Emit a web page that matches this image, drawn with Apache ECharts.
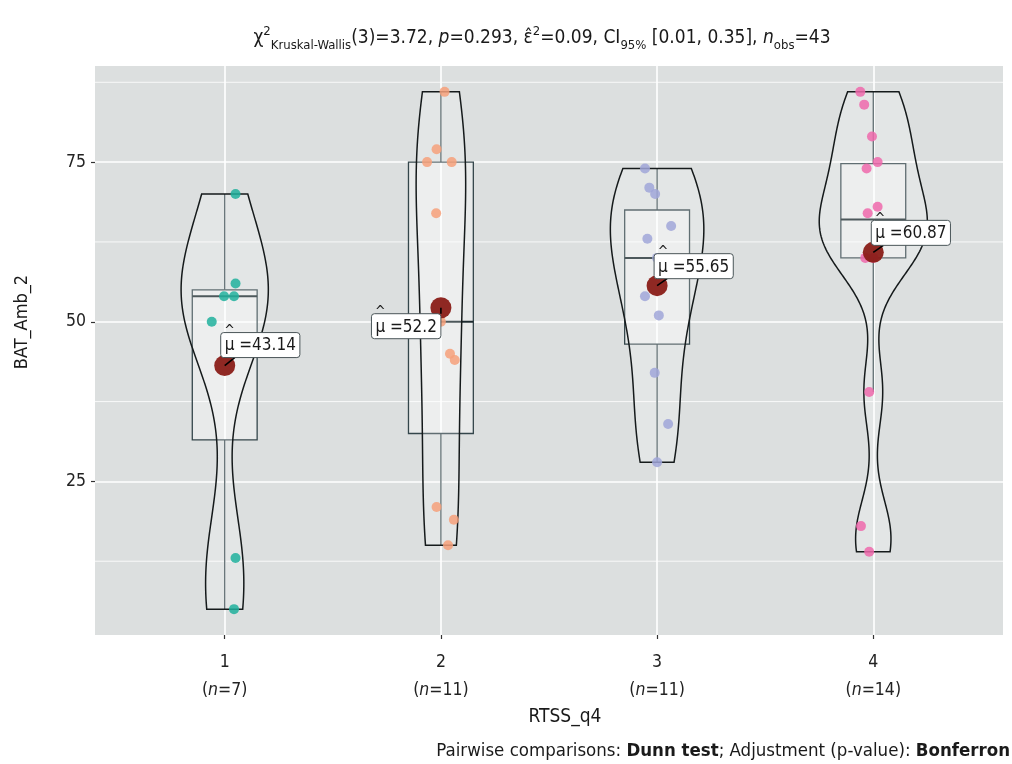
<!DOCTYPE html>
<html><head><meta charset="utf-8">
<script src="https://cdn.jsdelivr.net/npm/echarts@6/dist/echarts.min.js"></script>
<style>html,body{margin:0;padding:0;background:#fff}#c{width:1012px;height:764px}</style>
</head><body><div id="c"></div>
<script>
// ---------------- data ----------------
const categories = ['1', '2', '3', '4'];
const g1 = [70, 56, 54, 54, 50, 13, 5];
const g2 = [86, 77, 75, 75, 67, 50, 45, 44, 21, 19, 15];
const g3 = [74, 71, 70, 65, 63, 60, 54, 51, 42, 34, 28];
const g4 = [86, 84, 79, 75, 74, 68, 67, 65, 63, 60, 60, 39, 18, 14];
// horizontal jitter of each point, in category units
const jitter1 = [0.05, 0.05, -0.003, 0.043, -0.06, 0.05, 0.043];
const jitter2 = [0.017, -0.02, -0.064, 0.05, -0.022, 0.0, 0.042, 0.064, -0.02, 0.06, 0.033];
const jitter3 = [-0.056, -0.036, -0.009, 0.065, -0.045, 0.0, -0.056, 0.008, -0.011, 0.051, 0.0];
const jitter4 = [-0.06, -0.042, -0.006, 0.02, -0.031, 0.02, -0.026, 0.03, 0.02, -0.037, 0.0, -0.019, -0.057, -0.019];
const meanLabels = [43.14, 52.2, 55.65, 60.87];
const yTicks = [25, 50, 75];
const yMinor = [12.5, 37.5, 62.5, 87.5];
const titleParts = {
  stat: 'χ', statSub: 'Kruskal-Wallis', df: '(3)=3.72, ', p: '=0.293, ',
  eff: '=0.09, CI', ciSub: '95%', ci: ' [0.01, 0.35], ', nSub: 'obs', n: '=43'
};
const xTitle = 'RTSS_q4';
const yTitle = 'BAT_Amb_2';
const captionParts = ['Pairwise comparisons: ', 'Dunn test', '; Adjustment (p-value): ', 'Bonferron'];

const groups = [g1, g2, g3, g4];
const jitters = [jitter1, jitter2, jitter3, jitter4];

// ---------------- styling ----------------
const FONT = "'Liberation Sans Narrow','DejaVu Sans Condensed','Roboto Condensed','Noto Sans',sans-serif";
const pointColors = ['#20B09C', '#F6A07A', '#A0A6D8', '#EE69AC'];
const labelLayout = [{dx: -4, dy: -33}, {right: true, dy: 6}, {dx: -3, dy: -32}, {dx: -2, dy: -32}];

// ---------------- stats helpers ----------------
function q7(s, p) { const h = (s.length - 1) * p, lo = Math.floor(h), hi = Math.ceil(h); return s[lo] + (h - lo) * (s[hi] - s[lo]); }
function sd(a) { const m = a.reduce((x, y) => x + y, 0) / a.length; return Math.sqrt(a.reduce((x, y) => x + (y - m) * (y - m), 0) / (a.length - 1)); }
function bwNrd0(a) { const s = a.slice().sort((x, y) => x - y); const iqr = q7(s, .75) - q7(s, .25); let lo = Math.min(sd(a), iqr / 1.34); if (!lo) lo = sd(a) || 1; return 0.9 * lo * Math.pow(a.length, -0.2); }
function kde(a, bw, y) { let t = 0; for (const v of a) { const z = (y - v) / bw; t += Math.exp(-0.5 * z * z); } return t / (a.length * bw * Math.sqrt(2 * Math.PI)); }

const stats = groups.map(g => {
  const s = g.slice().sort((a, b) => a - b);
  const q1 = q7(s, .25), med = q7(s, .5), q3 = q7(s, .75), iqr = q3 - q1;
  const lo = Math.min(...s.filter(v => v >= q1 - 1.5 * iqr)), hi = Math.max(...s.filter(v => v <= q3 + 1.5 * iqr));
  const bw = bwNrd0(g), N = 240, ys = [], ds = [];
  for (let k = 0; k < N; k++) { const y = s[0] + (s[s.length - 1] - s[0]) * k / (N - 1); ys.push(y); ds.push(kde(g, bw, y)); }
  return {q1, med, q3, lo, hi, ys, ds};
});
const maxD = Math.max(...stats.map(s => Math.max(...s.ds)));

const mctx = document.createElement('canvas').getContext('2d');
function textW(t, size) { mctx.font = size + 'px ' + FONT; return mctx.measureText(t).width; }
const clamp = (v, a, b) => Math.max(a, Math.min(b, v));

const chart = echarts.init(document.getElementById('c'), null, {renderer: 'canvas'});
const series = [];

// minor grid lines
series.push({
  type: 'custom', z: 1, silent: true, data: yMinor.map(v => [1, v]),
  renderItem(params, api) {
    const y = api.coord([1, api.value(1)])[1];
    const cs = params.coordSys;
    return {type: 'line', shape: {x1: cs.x, y1: y, x2: cs.x + cs.width, y2: y}, style: {stroke: '#ffffff', lineWidth: 0.8}};
  }
});
// boxes
series.push({
  type: 'custom', z: 2, silent: true, data: categories.map((c, i) => [i + 1, stats[i].med]),
  renderItem(params, api) {
    const st = stats[params.dataIndex], cx = params.dataIndex + 1, BW = 0.15;
    const a = api.coord([cx - BW, st.q3]), b = api.coord([cx + BW, st.q1]);
    const m1 = api.coord([cx - BW, st.med]), m2 = api.coord([cx + BW, st.med]);
    const w1 = api.coord([cx, st.q3]), w2 = api.coord([cx, st.hi]);
    const w3 = api.coord([cx, st.q1]), w4 = api.coord([cx, st.lo]);
    const ls = {stroke: '#34464B', lineWidth: 1.3};
    return {type: 'group', children: [
      {type: 'rect', shape: {x: a[0], y: a[1], width: b[0] - a[0], height: b[1] - a[1]}, style: {fill: 'rgba(255,255,255,0.35)', stroke: '#34464B', lineWidth: 1.3}},
      {type: 'line', shape: {x1: m1[0], y1: m1[1], x2: m2[0], y2: m2[1]}, style: {stroke: '#1c2a2e', lineWidth: 2}},
      {type: 'line', shape: {x1: w1[0], y1: w1[1], x2: w2[0], y2: w2[1]}, style: ls},
      {type: 'line', shape: {x1: w3[0], y1: w3[1], x2: w4[0], y2: w4[1]}, style: ls}
    ]};
  }
});
// violins
series.push({
  type: 'custom', z: 3, silent: true, data: categories.map((c, i) => [i + 1, stats[i].med]),
  renderItem(params, api) {
    const st = stats[params.dataIndex], cx = params.dataIndex + 1, pts = [];
    for (let k = 0; k < st.ys.length; k++) pts.push(api.coord([cx - 0.25 * st.ds[k] / maxD, st.ys[k]]));
    for (let k = st.ys.length - 1; k >= 0; k--) pts.push(api.coord([cx + 0.25 * st.ds[k] / maxD, st.ys[k]]));
    return {type: 'polygon', shape: {points: pts}, style: {fill: 'rgba(255,255,255,0.22)', stroke: '#151a1b', lineWidth: 1.5}};
  }
});
// points
groups.forEach((g, i) => {
  series.push({
    type: 'scatter', z: 4, silent: true, symbolSize: 10,
    itemStyle: {color: pointColors[i], opacity: 0.85},
    data: g.map((v, k) => [i + 1 + jitters[i][k], v])
  });
});
// means
series.push({
  type: 'scatter', z: 5, silent: true, symbolSize: 21,
  itemStyle: {color: '#8A1C17', opacity: 0.95},
  data: meanLabels.map((m, i) => [i + 1, m])
});
// mean labels
series.push({
  type: 'custom', z: 6, silent: true, data: meanLabels.map((m, i) => [i + 1, m]),
  renderItem(params, api) {
    const i = params.dataIndex;
    const p = api.coord([api.value(0), api.value(1)]);
    const muW = textW('μ', 17);
    const txt = 'μ =' + String(meanLabels[i]);
    const w = textW(txt, 17) + 8, h = 25;
    const L = labelLayout[i];
    const bx = L.right ? p[0] - w : p[0] + L.dx;
    const by = p[1] + L.dy;
    const ex = clamp(p[0] + 10, bx, bx + w), ey = clamp(p[1], by, by + h);
    return {type: 'group', children: [
      {type: 'line', shape: {x1: p[0], y1: p[1], x2: ex, y2: ey}, style: {stroke: '#000', lineWidth: 1.6}},
      {type: 'rect', shape: {x: bx, y: by, width: w, height: h, r: 3}, style: {fill: '#ffffff', stroke: '#4a5558', lineWidth: 1}},
      {type: 'text', style: {text: txt, x: bx + 4, y: by + h / 2 + 1, verticalAlign: 'middle', align: 'left', fontSize: 17, fontFamily: FONT, fill: '#1a1a1a'}},
      {type: 'text', style: {text: '^', x: bx + 4 + muW / 2, y: by - 8, verticalAlign: 'top', align: 'center', fontSize: 14, fontFamily: FONT, fill: '#1a1a1a'}}
    ]};
  }
});

const titleText = '{t|' + titleParts.stat + '}{sup|2}{sub|' + titleParts.statSub + '}{t|' + titleParts.df + '}{it|p}{t|' + titleParts.p +
  '}{t|ε̂}{sup|2}{t|' + titleParts.eff + '}{sub|' + titleParts.ciSub + '}{t|' + titleParts.ci + '}{it|n}{sub|' + titleParts.nSub + '}{t|' + titleParts.n + '}';

const option = {
  backgroundColor: '#ffffff',
  animation: false,
  grid: {left: 95, right: 9, top: 66, bottom: 129, show: true, backgroundColor: '#DCDFDF', borderWidth: 0},
  xAxis: {
    type: 'value', min: 0.4, max: 4.6,
    axisLine: {show: false},
    axisTick: {show: true, customValues: [1, 2, 3, 4], length: 4, lineStyle: {color: '#333', width: 1.2}},
    axisLabel: {
      customValues: [1, 2, 3, 4], margin: 13,
      formatter: v => { const i = Math.round(v) - 1; return '{a|' + categories[i] + '}\n{a|(}{i|n}{a|=' + groups[i].length + ')}'; },
      rich: {
        a: {fontSize: 17.5, lineHeight: 28, fontFamily: FONT, color: '#222'},
        i: {fontSize: 17.5, lineHeight: 28, fontFamily: FONT, color: '#222', fontStyle: 'italic'}
      }
    },
    splitLine: {show: true, lineStyle: {color: '#ffffff', width: 1.6}}
  },
  yAxis: {
    type: 'value', min: 0.95, max: 90.05,
    axisLine: {show: false},
    axisTick: {show: true, customValues: yTicks, length: 4, lineStyle: {color: '#333', width: 1.2}},
    axisLabel: {customValues: yTicks, fontSize: 17.5, fontFamily: FONT, color: '#222', margin: 9},
    splitLine: {show: true, lineStyle: {color: '#ffffff', width: 1.6}}
  },
  graphic: [
    {type: 'text', x: 542, y: 38, silent: true, style: {
      text: titleText, align: 'center', verticalAlign: 'middle',
      rich: {
        t: {fontSize: 19, lineHeight: 28, fontFamily: FONT, fill: '#1a1a1a'},
        it: {fontSize: 19, lineHeight: 28, fontFamily: FONT, fill: '#1a1a1a', fontStyle: 'italic'},
        sup: {fontSize: 13, lineHeight: 13, fontFamily: FONT, fill: '#1a1a1a', verticalAlign: 'top', padding: [1, 0, 0, 0]},
        sub: {fontSize: 13, lineHeight: 13, fontFamily: FONT, fill: '#1a1a1a', verticalAlign: 'bottom'}
      }
    }},
    {type: 'text', x: 565, y: 717, silent: true, style: {text: xTitle, align: 'center', verticalAlign: 'middle', fontSize: 19, fontFamily: FONT, fill: '#1a1a1a'}},
    {type: 'text', x: 22, y: 322, rotation: Math.PI / 2, silent: true, style: {text: yTitle, align: 'center', verticalAlign: 'middle', fontSize: 18, fontFamily: FONT, fill: '#1a1a1a'}},
    {type: 'text', x: 1010, y: 751, silent: true, style: {
      text: '{n|' + captionParts[0] + '}{b|' + captionParts[1] + '}{n|' + captionParts[2] + '}{b|' + captionParts[3] + '}',
      align: 'right', verticalAlign: 'middle',
      rich: {
        n: {fontSize: 18.5, fontFamily: FONT, fill: '#1a1a1a'},
        b: {fontSize: 18.5, fontFamily: FONT, fill: '#1a1a1a', fontWeight: 'bold'}
      }
    }}
  ],
  series
};
chart.setOption(option);
</script>
</body></html>
